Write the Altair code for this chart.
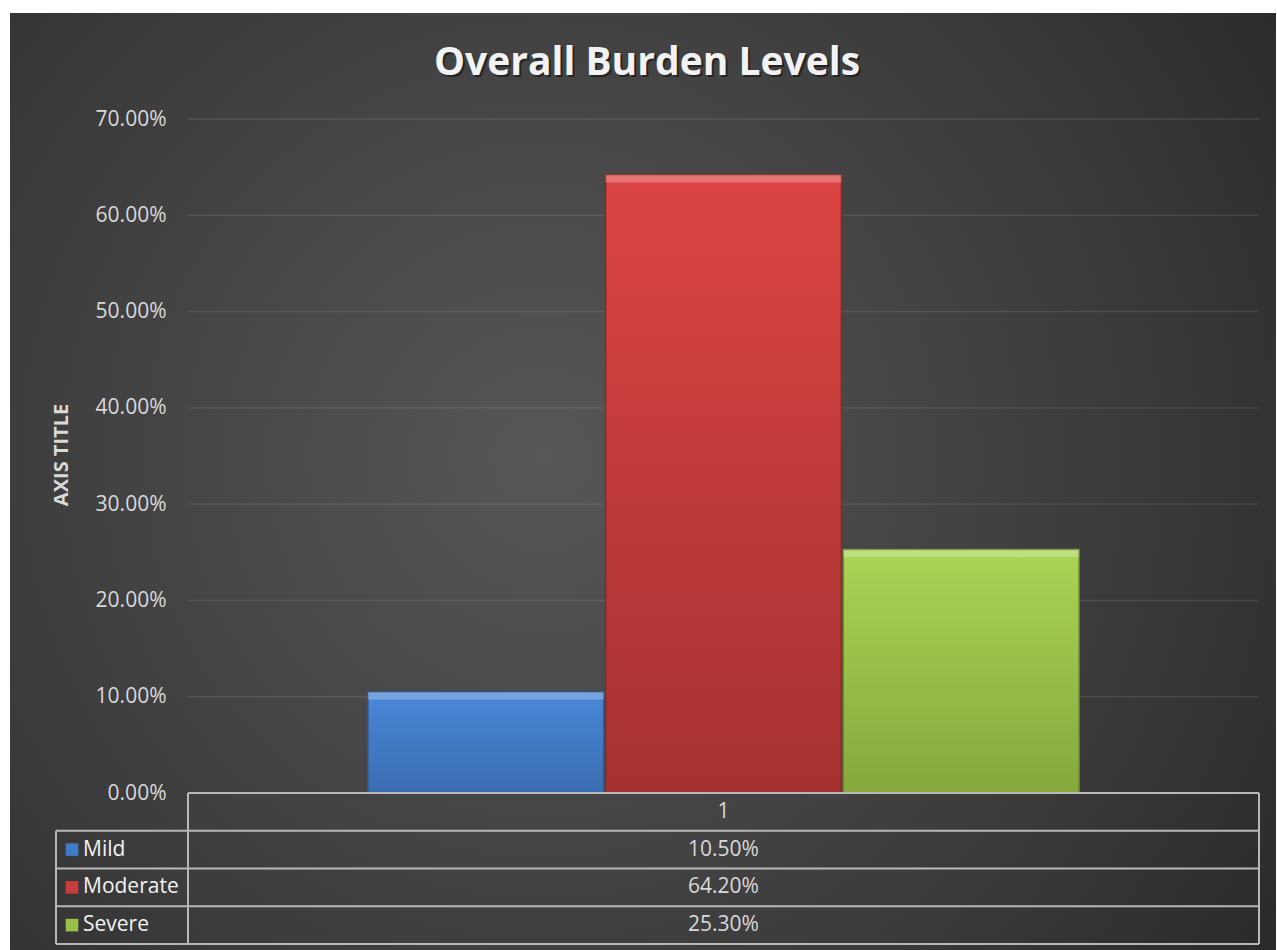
import altair as alt
import pandas as pd

# ---- data ----
levels = ["Mild", "Moderate", "Severe"]
values = [0.105, 0.642, 0.253]
category = ["1", "1", "1"]
rows = [1, 2, 3]
y_ticks = [0, 0.1, 0.2, 0.3, 0.4, 0.5, 0.6, 0.7]
title_text = "Overall Burden Levels"
axis_title = "AXIS TITLE"

# ---- styles ----
top_colors = ["#4a88d8", "#dc4444", "#a9d556"]
bottom_colors = ["#3a6cb0", "#a53131", "#86a83c"]
edge_colors = ["#2f5a94", "#8a2828", "#6d8a2e"]
legend_colors = ["#3f7bc8", "#c63b3b", "#98c048"]
FONT = "Open Sans"
TXT = "#d9d9d9"
LINE = "#b8b8b8"

W, H = 1071, 674

df = pd.DataFrame({"cat": category, "level": levels, "value": values, "row": rows})
df["mid"] = df["row"] + 0.5

one = pd.DataFrame({"a": [0]})
grid_df = pd.DataFrame({"value": y_ticks[1:]})

# background with radial gradient
bg = alt.Chart(one).mark_rect(
    color=alt.Gradient(
        gradient="radial",
        stops=[alt.GradientStop(color="#575757", offset=0),
               alt.GradientStop(color="#3a3a3a", offset=0.6),
               alt.GradientStop(color="#252525", offset=1)],
        x1=0.42, y1=0.48, r1=0, x2=0.42, y2=0.48, r2=0.78,
    )
).encode(x=alt.value(-178), x2=alt.value(W + 17), y=alt.value(-106), y2=alt.value(H + 160))

yscale = alt.Scale(domain=[0, 0.7], nice=False)
yaxis = alt.Axis(format=".2%", values=y_ticks, grid=False, domain=False, ticks=False, zindex=1,
                 labelFont=FONT, labelFontSize=21, labelColor=TXT, labelPadding=22, title=None)
yenc = alt.Y("value:Q", scale=yscale, axis=yaxis)

grid = alt.Chart(grid_df).mark_rule(color="white", opacity=0.1, strokeWidth=1.3).encode(
    y=yenc, x=alt.value(0), x2=alt.value(W))

xenc = alt.X("cat:N", scale=alt.Scale(paddingOuter=0.253, paddingInner=0),
             axis=alt.Axis(labels=False, ticks=False, domain=False, grid=False, title=None))
xoff = alt.XOffset("level:N", scale=alt.Scale(domain=levels, paddingInner=0.008, paddingOuter=0))

bar_layers = []
for i, lv in enumerate(levels):
    bar_layers.append(
        alt.Chart(df).transform_filter(alt.datum.level == lv).mark_bar(
            color=alt.Gradient(
                gradient="linear",
                stops=[alt.GradientStop(color=top_colors[i], offset=0),
                       alt.GradientStop(color=bottom_colors[i], offset=1)],
                x1=0, x2=0, y1=0, y2=1,
            ),
            stroke=edge_colors[i], strokeWidth=1.5,
        ).encode(x=xenc, xOffset=xoff, y=yenc)
    )

bevel = alt.Chart(df).transform_calculate(bev="datum.value - 0.008").mark_bar(
    color="white", opacity=0.25
).encode(x=xenc, xOffset=xoff, y=yenc, y2="bev:Q")

title_shadow = alt.Chart(one).mark_text(text=title_text, font=FONT, fontSize=39, fontWeight="bold",
                                        color="#111111", opacity=0.6, align="center",
                                        baseline="middle").encode(x=alt.value(461), y=alt.value(-54))
title = alt.Chart(one).mark_text(text=title_text, font=FONT, fontSize=39, fontWeight="bold",
                                 color="#f2f2f2", align="center", baseline="middle").encode(
    x=alt.value(459), y=alt.value(-56))
ytitle = alt.Chart(one).mark_text(text=axis_title, font=FONT, fontSize=20, fontWeight="bold",
                                  color=TXT, angle=270, align="center", baseline="middle").encode(
    x=alt.value(-126), y=alt.value(H / 2 - 1))

main = alt.layer(bg, grid, *bar_layers, bevel, title_shadow, title, ytitle)

# ---- table below the plot ----
tscale = alt.Scale(domain=[0, 4], range=[H, H + 151], nice=False, zero=False)
hlines = pd.DataFrame({"b": [1, 2, 3, 4]})
toplines = pd.DataFrame({"b": [0]})
vfull = pd.DataFrame({"y0": [0], "y1": [4]})
vpart = pd.DataFrame({"y0": [1], "y1": [4]})

rule_h = alt.Chart(hlines).mark_rule(color=LINE, strokeWidth=2).encode(
    y=alt.Y("b:Q", scale=tscale, axis=None), x=alt.value(-132), x2=alt.value(W))
rule_top = alt.Chart(toplines).mark_rule(color=LINE, strokeWidth=2).encode(
    y=alt.Y("b:Q", scale=tscale, axis=None), x=alt.value(0), x2=alt.value(W))
rule_v0 = alt.Chart(vfull).mark_rule(color=LINE, strokeWidth=2).encode(
    y=alt.Y("y0:Q", scale=tscale, axis=None), y2="y1:Q", x=alt.value(0))
rule_v1 = alt.Chart(vfull).mark_rule(color=LINE, strokeWidth=2).encode(
    y=alt.Y("y0:Q", scale=tscale, axis=None), y2="y1:Q", x=alt.value(W))
rule_vl = alt.Chart(vpart).mark_rule(color=LINE, strokeWidth=2).encode(
    y=alt.Y("y0:Q", scale=tscale, axis=None), y2="y1:Q", x=alt.value(-132))

hdr = pd.DataFrame({"cat": [category[0]], "pos": [0.5]})
header = alt.Chart(hdr).mark_text(font=FONT, fontSize=21, color=TXT, align="center",
                                  baseline="middle").encode(
    y=alt.Y("pos:Q", scale=tscale, axis=None), x=alt.value(W / 2), text="cat:N")
vals = alt.Chart(df).mark_text(font=FONT, fontSize=21, color=TXT, align="center",
                               baseline="middle").encode(
    y=alt.Y("mid:Q", scale=tscale, axis=None), x=alt.value(W / 2),
    text=alt.Text("value:Q", format=".2%"))
labels = alt.Chart(df).mark_text(font=FONT, fontSize=21, color="#f2f2f2", align="left",
                                 baseline="middle").encode(
    y=alt.Y("mid:Q", scale=tscale, axis=None), x=alt.value(-105), text="level:N")
squares = alt.Chart(df).mark_point(shape="square", filled=True, size=160, opacity=1).encode(
    y=alt.Y("mid:Q", scale=tscale, axis=None), x=alt.value(-116),
    color=alt.Color("level:N", scale=alt.Scale(domain=levels, range=legend_colors), legend=None))

table = alt.layer(rule_h, rule_top, rule_v0, rule_v1, rule_vl, header, vals, labels, squares)

chart = alt.layer(main, table).resolve_scale(y="independent").properties(
    width=W, height=H,
    padding={"left": 188, "top": 119, "right": 18, "bottom": 157},
    autosize="none",
).configure(background="white").configure_view(strokeWidth=0)

chart.save("out.html", embed_options={"renderer": "svg", "actions": False})
